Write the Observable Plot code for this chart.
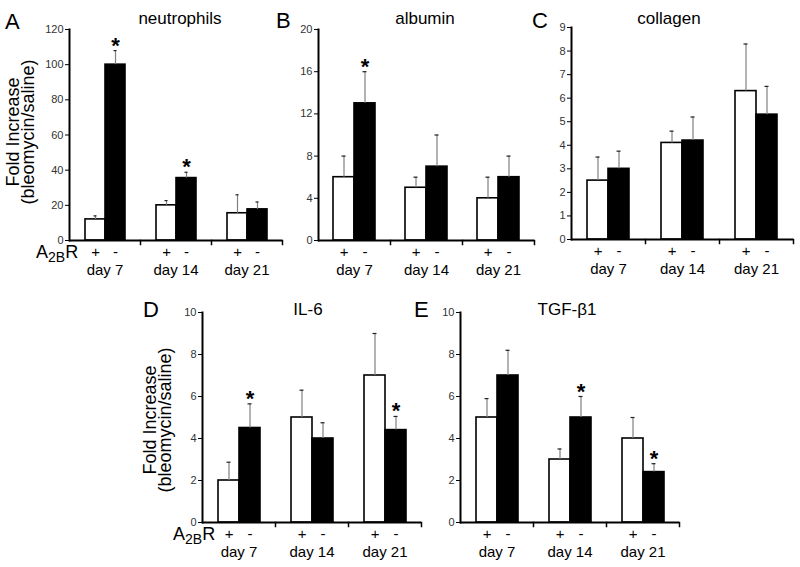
<!DOCTYPE html>
<html><head><meta charset="utf-8">
<script src="https://cdn.jsdelivr.net/npm/d3@7"></script>
<script src="https://cdn.jsdelivr.net/npm/@observablehq/plot@0.6"></script>
<style>
body{margin:0;background:#fff;}
#fig{position:relative;width:800px;height:567px;overflow:hidden;background:#fff;font-family:"Liberation Sans",Arial,sans-serif;}
#fig > svg{position:absolute;}
</style></head><body><div id="fig"></div>
<script>
// ---- data ----
const days = ["day 7", "day 14", "day 21"];
const genotypes = ["+", "-"];          // A2BR +/+ (white) and A2BR -/- (black)

const neutrophilsPlus = [12, 20, 15.5];
const neutrophilsPlusErr = [2, 2.7, 10.5];
const neutrophilsMinus = [100, 35.5, 17.7];
const neutrophilsMinusErr = [8, 3.3, 4.2];
const neutrophilsSig = [false, false, false, true, true, false]; // + d7,d14,d21, - d7,d14,d21

const albuminPlus = [6, 5, 4];
const albuminPlusErr = [2, 1, 2];
const albuminMinus = [13, 7, 6];
const albuminMinusErr = [3, 3, 2];
const albuminSig = [false, false, false, true, false, false];

const collagenPlus = [2.5, 4.1, 6.3];
const collagenPlusErr = [1.0, 0.5, 2.0];
const collagenMinus = [3.0, 4.2, 5.3];
const collagenMinusErr = [0.75, 1.0, 1.2];
const collagenSig = [false, false, false, false, false, false];

const il6Plus = [2, 5, 7];
const il6PlusErr = [0.87, 1.3, 2];
const il6Minus = [4.5, 4, 4.4];
const il6MinusErr = [1.15, 0.75, 0.65];
const il6Sig = [false, false, false, true, false, true];

const tgfPlus = [5, 3, 4];
const tgfPlusErr = [0.9, 0.5, 1];
const tgfMinus = [7, 5, 2.4];
const tgfMinusErr = [1.2, 1, 0.4];
const tgfSig = [false, false, false, false, true, true];

const titles = ["neutrophils", "albumin", "collagen", "IL-6", "TGF-\u03b21"];
const letters = ["A", "B", "C", "D", "E"];
const yMaxes = [120, 20, 9, 10, 10];
const ySteps = [20, 4, 1, 2, 2];

function rowsOf(plus, plusErr, minus, minusErr, sig) {
  const rows = [];
  days.forEach((day, i) => {
    rows.push({day, g: "+", v: plus[i], e: plusErr[i], sig: sig[i]});
    rows.push({day, g: "-", v: minus[i], e: minusErr[i], sig: sig[3 + i]});
  });
  return rows;
}
const panelRows = [
  rowsOf(neutrophilsPlus, neutrophilsPlusErr, neutrophilsMinus, neutrophilsMinusErr, neutrophilsSig),
  rowsOf(albuminPlus, albuminPlusErr, albuminMinus, albuminMinusErr, albuminSig),
  rowsOf(collagenPlus, collagenPlusErr, collagenMinus, collagenMinusErr, collagenSig),
  rowsOf(il6Plus, il6PlusErr, il6Minus, il6MinusErr, il6Sig),
  rowsOf(tgfPlus, tgfPlusErr, tgfMinus, tgfMinusErr, tgfSig)
];

// ---- layout (svg placement and margins) ----
const layout = [
  {left: 0,   top: 0,   width: 285, height: 280, mt: 29, mb: 40, ml: 68, mr: 3},
  {left: 285, top: 0,   width: 252, height: 280, mt: 29, mb: 40, ml: 33, mr: 3},
  {left: 537, top: 0,   width: 261, height: 280, mt: 27, mb: 41, ml: 33, mr: 4},
  {left: 165, top: 300, width: 259, height: 262, mt: 12, mb: 40, ml: 37, mr: 3},
  {left: 424, top: 300, width: 258, height: 262, mt: 12, mb: 40, ml: 36, mr: 3}
];

const font = "Liberation Sans, Arial, sans-serif";
const fig = document.getElementById("fig");

panelRows.forEach((rows, k) => {
  const L = layout[k];
  const innerH = L.height - L.mt - L.mb;
  const ticks = d3.range(0, yMaxes[k] + ySteps[k] / 2, ySteps[k]);
  const chart = Plot.plot({
    width: L.width, height: L.height,
    marginTop: L.mt, marginBottom: L.mb, marginLeft: L.ml, marginRight: L.mr,
    style: {background: "none", overflow: "visible", fontFamily: font},
    fx: {domain: days, padding: 0, axis: null, label: null},
    x: {domain: genotypes, paddingInner: 0, paddingOuter: 0.7, axis: null, label: null},
    y: {domain: [0, yMaxes[k]], axis: null, label: null},
    color: {domain: genotypes, range: ["white", "black"]},
    marks: [
      Plot.barY(rows, {fx: "day", x: "g", y: "v", fill: "g", stroke: "black", strokeWidth: 1.6}),
      Plot.ruleX(rows, {fx: "day", x: "g", y1: "v", y2: d => d.v + d.e, stroke: "#808080", strokeWidth: 1.2}),
      Plot.tickY(rows, {fx: "day", x: "g", y: d => d.v + d.e, stroke: "#222", strokeWidth: 1.2, insetLeft: 8.5, insetRight: 8.5}),
      Plot.text(rows.filter(d => d.sig), {fx: "day", x: "g", y: d => d.v + d.e, text: () => "*", dy: -5, fontSize: 22, fontWeight: "bold", fill: "black"}),
      Plot.ruleY([0], {stroke: "black", strokeWidth: 2}),
      Plot.frame({anchor: "left", facetAnchor: "left", stroke: "black", strokeWidth: 2}),
      Plot.frame({anchor: "right", insetTop: innerH, insetBottom: -4, stroke: "black", strokeWidth: 1.5}),
      Plot.axisY({ticks, tickSize: 4, tickPadding: 2, fontSize: 11, fill: "#333", stroke: "black", label: null}),
      Plot.axisX({tickSize: 0, tickPadding: 6, fontSize: 15, fill: "black", label: null}),
      Plot.axisFx({anchor: "bottom", tickSize: 0, tickPadding: 24, fontSize: 15, fill: "black", label: null})
    ]
  });
  chart.style.left = L.left + "px";
  chart.style.top = L.top + "px";
  fig.appendChild(chart);
});

// ---- text overlay ----
const ov = d3.select(fig).append("svg")
  .attr("width", 800).attr("height", 567)
  .style("left", "0px").style("top", "0px")
  .style("pointer-events", "none")
  .attr("font-family", font);

const letterPos = [[5, 29], [276, 28], [532, 28], [143, 317], [414, 317]];
const titlePos = [[180, 24], [425, 24], [669, 24], [308, 315], [567, 315]];
letters.forEach((t, i) => {
  ov.append("text").attr("x", letterPos[i][0]).attr("y", letterPos[i][1])
    .attr("font-size", 22).text(t);
  ov.append("text").attr("x", titlePos[i][0]).attr("y", titlePos[i][1])
    .attr("font-size", 17).attr("text-anchor", "middle").text(titles[i]);
});

const yLabelPos = [{x1: 19, x2: 34, y: 132}, {x1: 156, x2: 171, y: 420}];
yLabelPos.forEach(p => {
  ov.append("text").attr("transform", `translate(${p.x1},${p.y}) rotate(-90)`)
    .attr("font-size", 18).attr("text-anchor", "middle").text("Fold Increase");
  ov.append("text").attr("transform", `translate(${p.x2},${p.y}) rotate(-90)`)
    .attr("font-size", 18).attr("text-anchor", "middle").text("(bleomycin/saline)");
});

const a2bPos = [[36, 258], [173, 540]];
a2bPos.forEach(([x, y]) => {
  const t = ov.append("text").attr("x", x).attr("y", y).attr("font-size", 18);
  t.append("tspan").text("A");
  t.append("tspan").attr("font-size", 14).attr("dy", 4).text("2B");
  t.append("tspan").attr("dy", -4).text("R");
});
</script></body></html>
